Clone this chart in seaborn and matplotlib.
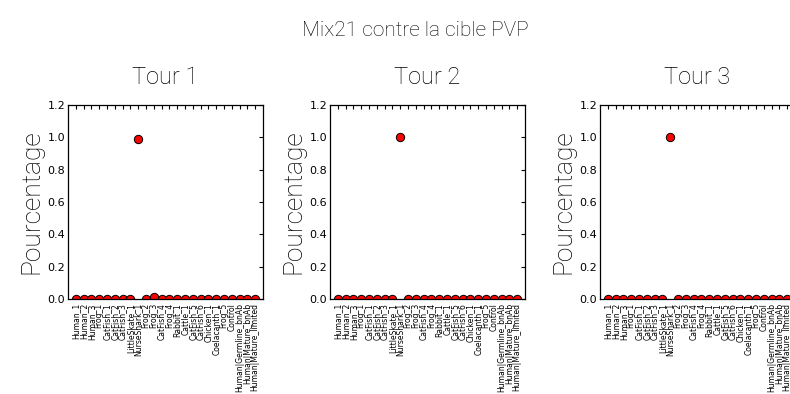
import matplotlib
matplotlib.use("Agg")
import matplotlib.pyplot as plt
from matplotlib import font_manager
import seaborn as sns
import pandas as pd

categories = [
    "Human_1", "Human_2", "Human_3", "Frog_1", "CatFish_1", "CatFish_2",
    "CatFish_3", "LittleSkate_1", "NurseShark_1", "Frog_2", "Frog_3",
    "CatFish_4", "Frog_4", "Rabbit_1", "Cattle_1", "CatFish_5", "CatFish_6",
    "Chicken_1", "Coelacanth_1", "Frog_5", "Control",
    "Human|Germline_bnAb", "Human|Mature_bnAb", "Human|Mature_limited",
]
tour_names = ["Tour 1", "Tour 2", "Tour 3"]
tour1 = [0.0, 0.0, 0.0, 0.0, 0.0, 0.0, 0.0, 0.0, 0.99, 0.0, 0.01, 0.0,
         0.0, 0.0, 0.0, 0.0, 0.0, 0.0, 0.0, 0.0, 0.0, 0.0, 0.0, 0.0]
tour2 = [0.0, 0.0, 0.0, 0.0, 0.0, 0.0, 0.0, 0.0, 1.0, 0.0, 0.0, 0.0,
         0.0, 0.0, 0.0, 0.0, 0.0, 0.0, 0.0, 0.0, 0.0, 0.0, 0.0, 0.0]
tour3 = [0.0, 0.0, 0.0, 0.0, 0.0, 0.0, 0.0, 0.0, 1.0, 0.0, 0.0, 0.0,
         0.0, 0.0, 0.0, 0.0, 0.0, 0.0, 0.0, 0.0, 0.0, 0.0, 0.0, 0.0]
yticks = [0.0, 0.2, 0.4, 0.6, 0.8, 1.0, 1.2]

df = pd.DataFrame({
    "cible": categories * 3,
    "tour": sum([[t] * len(categories) for t in tour_names], []),
    "valeur": tour1 + tour2 + tour3,
})

sns.set_style("white", {"xtick.direction": "in", "ytick.direction": "in",
                        "axes.edgecolor": "black", "text.color": "black",
                        "axes.labelcolor": "black", "xtick.color": "black",
                        "ytick.color": "black"})
plt.rcParams["font.family"] = ["DejaVu Sans"]

names = {f.name for f in font_manager.fontManager.ttflist}
light_family = "Roboto" if "Roboto" in names else "DejaVu Sans"
light = dict(family=light_family, weight="light", color="black")

fig = plt.figure(figsize=(7.9, 3.94), dpi=100)
lefts = [68, 330, 600]
width, bottom, top = 195, 299, 105
W, H = 790, 394

for i, name in enumerate(tour_names):
    ax = fig.add_axes([lefts[i] / W, 1 - bottom / H, width / W, (bottom - top) / H])
    sub = df[df["tour"] == name]
    # string x values land on a categorical axis, one slot per target
    sns.scatterplot(data=sub, x="cible", y="valeur", color="red",
                    edgecolor="black", linewidth=0.7, s=36, ax=ax, legend=False)
    ax.set_xlim(-1, len(categories))
    ax.set_ylim(0, 1.2)
    ax.set_yticks(yticks)
    ax.set_yticklabels([f"{v:.1f}" for v in yticks], fontsize=8, color="black")
    ax.set_xticks(range(len(categories)))
    ax.set_xticklabels(categories, rotation=90, fontsize=5.5, color="black")
    ax.tick_params(axis="both", which="major", direction="in", top=True,
                   right=True, length=3, width=0.8, color="black", pad=2)
    ax.tick_params(axis="x", pad=3)
    for s in ax.spines.values():
        s.set_visible(True)
        s.set_color("black")
        s.set_linewidth(0.9)
        s.set_zorder(3)
    ax.set_xlabel("")
    ax.set_ylabel("Pourcentage", fontsize=19, labelpad=3, **light)
    ax.set_title(name, fontsize=17, pad=15, **light)

fig.text(415 / W, 1 - 30 / H, "Mix21 contre la cible PVP", ha="center",
         va="center", fontsize=15, **light)

fig.savefig("out.png", dpi=100)
